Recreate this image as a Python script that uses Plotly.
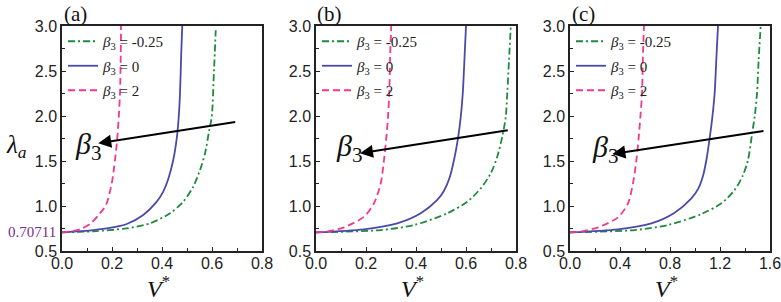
import plotly.graph_objects as go

# ---------------- data ----------------
# Panel (a)
a_green_V = [0.0, 0.125, 0.259, 0.352, 0.432, 0.485, 0.525, 0.552, 0.572, 0.589, 0.599, 0.608, 0.615]
a_green_L = [0.70711, 0.719, 0.752, 0.807, 0.919, 1.048, 1.215, 1.40, 1.585, 1.844, 1.99, 2.507, 2.952]
a_blue_V = [0.0, 0.125, 0.191, 0.259, 0.325, 0.379, 0.405, 0.425, 0.445, 0.459, 0.467, 0.472, 0.477, 0.481]
a_blue_L = [0.70711, 0.733, 0.756, 0.80, 0.90, 1.048, 1.16, 1.30, 1.511, 1.752, 1.99, 2.25, 2.70, 3.0]
a_pink_V = [0.0, 0.032, 0.072, 0.112, 0.152, 0.176, 0.199, 0.212, 0.221, 0.227, 0.232, 0.235, 0.236]
a_pink_L = [0.70711, 0.717, 0.741, 0.80, 0.919, 1.011, 1.252, 1.511, 1.752, 1.99, 2.25, 2.70, 3.0]

# Panel (b)
b_green_V = [0.0, 0.259, 0.392, 0.525, 0.605, 0.659, 0.699, 0.725, 0.745, 0.759, 0.765, 0.772, 0.779]
b_green_L = [0.70711, 0.733, 0.789, 0.919, 1.048, 1.196, 1.363, 1.548, 1.77, 1.99, 2.25, 2.62, 2.99]
b_blue_V = [0.0, 0.192, 0.325, 0.419, 0.485, 0.512, 0.535, 0.552, 0.568, 0.579, 0.587, 0.595, 0.600]
b_blue_L = [0.70711, 0.741, 0.807, 0.919, 1.067, 1.17, 1.32, 1.511, 1.752, 1.99, 2.25, 2.70, 3.0]
b_pink_V = [0.0, 0.040, 0.112, 0.192, 0.232, 0.259, 0.272, 0.281, 0.288, 0.293, 0.297, 0.301]
b_pink_L = [0.70711, 0.715, 0.763, 0.881, 1.03, 1.252, 1.511, 1.752, 1.99, 2.25, 2.70, 3.0]

# Panel (c)
c_green_V = [0.0, 0.517, 0.784, 1.051, 1.211, 1.317, 1.384, 1.424, 1.459, 1.477, 1.496, 1.509, 1.525]
c_green_L = [0.70711, 0.733, 0.789, 0.911, 1.03, 1.178, 1.344, 1.511, 1.826, 1.99, 2.25, 2.62, 2.99]
c_blue_V = [0.0, 0.384, 0.651, 0.837, 0.971, 1.025, 1.065, 1.091, 1.117, 1.139, 1.157, 1.173, 1.184]
c_blue_L = [0.70711, 0.741, 0.807, 0.926, 1.085, 1.19, 1.34, 1.511, 1.752, 1.99, 2.25, 2.70, 3.0]
c_pink_V = [0.0, 0.080, 0.224, 0.384, 0.464, 0.504, 0.531, 0.549, 0.563, 0.576, 0.584, 0.592]
c_pink_L = [0.70711, 0.715, 0.763, 0.874, 1.03, 1.252, 1.511, 1.752, 1.99, 2.25, 2.70, 3.0]

series_names = ["<i>β</i><sub>3</sub> = -0.25", "<i>β</i><sub>3</sub> = 0", "<i>β</i><sub>3</sub> = 2"]
panel_labels = ["(a)", "(b)", "(c)"]
x_ranges = [[0, 0.8], [0, 0.8], [0, 1.6]]
x_dticks = [0.2, 0.2, 0.4]
y_range = [0.5, 3.0]
start_value_label = "0.70711"

# arrows: (tail V, tail λ, head V, head λ)
arrows = [(0.699, 1.937, 0.145, 1.697),
          (0.773, 1.844, 0.176, 1.585),
          (1.56, 1.837, 0.339, 1.578)]

panels = [
    [(a_green_V, a_green_L), (a_blue_V, a_blue_L), (a_pink_V, a_pink_L)],
    [(b_green_V, b_green_L), (b_blue_V, b_blue_L), (b_pink_V, b_pink_L)],
    [(c_green_V, c_green_L), (c_blue_V, c_blue_L), (c_pink_V, c_pink_L)],
]

# ---------------- styling ----------------
W, H = 781, 302
colors = ["#1f8a3c", "#4a4aa8", "#f2388f"]
dashes = ["7px,3px,2px,3px", "solid", "7px,4px"]
px_left = [62, 316, 570]
px_w = 200
y_top, y_bot = 26, 251


def PX(rx):
    return rx / W


def PY(ry):
    return 1 - ry / H


serif = "Liberation Serif, Times New Roman, serif"
sans = "Liberation Sans, Arial, sans-serif"

fig = go.Figure()
layout = dict(width=W, height=H, margin=dict(l=0, r=0, t=0, b=0, autoexpand=False),
              paper_bgcolor="white", plot_bgcolor="white", showlegend=True)

annotations = []
for i, series in enumerate(panels):
    ax_suffix = "" if i == 0 else str(i + 1)
    leg = "legend" if i == 0 else f"legend{i + 1}"
    for j, (xs, ys) in enumerate(series):
        fig.add_trace(go.Scatter(
            x=xs, y=ys, mode="lines", name=series_names[j],
            line=dict(color=colors[j], width=1.8, dash=dashes[j], shape="spline", smoothing=0.8),
            xaxis="x" + ax_suffix, yaxis="y" + ax_suffix,
            legend=leg, legendgroup=f"g{i}{j}", showlegend=True))
    layout["xaxis" + ax_suffix] = dict(
        domain=[PX(px_left[i]), PX(px_left[i] + px_w)], range=x_ranges[i], dtick=x_dticks[i], tick0=0,
        automargin=False, ticklabeloverflow="allow", ticklabelstandoff=-3,
        tickformat=".1f", ticks="inside", ticklen=4, tickwidth=1, tickcolor="#222",
        minor=dict(ticks="inside", dtick=x_dticks[i] / 2, ticklen=3, tickcolor="#222"),
        showline=True, linecolor="#222", linewidth=1.5, mirror=True,
        showgrid=False, zeroline=False, anchor="y" + ax_suffix,
        tickfont=dict(family=sans, size=16, color="#222"), fixedrange=True)
    layout["yaxis" + ax_suffix] = dict(
        domain=[PY(y_bot), PY(y_top)], range=y_range, dtick=0.5, tick0=0.5,
        automargin=False, ticklabeloverflow="allow",
        tickformat=".1f", ticks="inside", ticklen=4, tickwidth=1, tickcolor="#222",
        minor=dict(ticks="inside", dtick=0.25, ticklen=3, tickcolor="#222"),
        showline=True, linecolor="#222", linewidth=1.5, mirror=True,
        showgrid=False, zeroline=False, anchor="x" + ax_suffix,
        tickfont=dict(family=sans, size=16, color="#222"), fixedrange=True)
    layout[leg] = dict(x=PX(px_left[i] + 1), y=PY(25), xanchor="left", yanchor="top",
                       bgcolor="rgba(0,0,0,0)", font=dict(family=serif, size=15, color="#222"),
                       tracegroupgap=2, itemclick=False)
    # panel label
    annotations.append(dict(text=panel_labels[i], x=PX(px_left[i] + 13), y=PY(14),
                            xanchor="center", yanchor="middle",
                            xref="paper", yref="paper", showarrow=False,
                            font=dict(family=serif, size=21, color="#111")))
    # x title
    annotations.append(dict(text="<i>V</i><sup>*</sup>", x=PX(px_left[i] + 96), y=PY(287),
                            xanchor="center", yanchor="middle",
                            xref="paper", yref="paper", showarrow=False,
                            font=dict(family=serif, size=24, color="#111")))
    # arrow
    tv, tl, hv, hl = arrows[i]
    annotations.append(dict(x=hv, y=hl, ax=tv, ay=tl, xref="x" + ax_suffix, yref="y" + ax_suffix,
                            axref="x" + ax_suffix, ayref="y" + ax_suffix, text="", showarrow=True,
                            arrowhead=2, arrowsize=1.3, arrowwidth=2, arrowcolor="#000"))

# β3 labels
beta_pos = [(88, 146), (349, 148), (605, 149)]
for (bx, by) in beta_pos:
    annotations.append(dict(text="<i>β</i><sub>3</sub>", x=PX(bx), y=PY(by),
                            xanchor="center", yanchor="middle",
                            xref="paper", yref="paper", showarrow=False,
                            font=dict(family=serif, size=30, color="#111")))

# y title
annotations.append(dict(text="<i>λ</i><sub><i>a</i></sub>", x=PX(16), y=PY(147),
                        xanchor="center", yanchor="middle",
                        xref="paper", yref="paper", showarrow=False,
                        font=dict(family=serif, size=25, color="#111")))
# starting value label
annotations.append(dict(text=start_value_label, x=PX(58), y=0.70711, xanchor="right", yanchor="middle",
                        xref="paper", yref="y", showarrow=False,
                        font=dict(family=serif, size=15, color="#7a2e8e")))

layout["annotations"] = annotations
fig.update_layout(**layout)
fig.write_html("out.html", config={"displayModeBar": False},
               post_script="document.body.style.margin='0';document.body.style.overflow='hidden';")
